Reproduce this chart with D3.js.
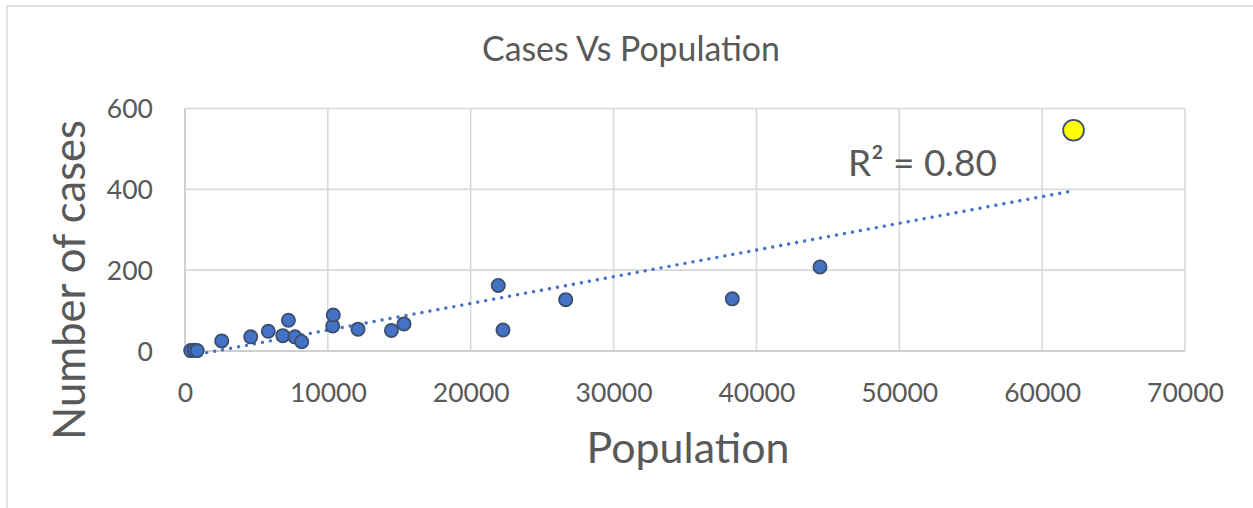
<!DOCTYPE html>
<html><head><meta charset="utf-8">
<script src="https://cdn.jsdelivr.net/npm/d3@7"></script>
<style>body{margin:0;background:#fff} svg{display:block}</style>
</head><body><svg id="c" width="1253" height="508"></svg>
<script>
// ---- data ----
const population = [400, 650, 850, 2570, 4600, 5830, 6850, 7240, 7700, 8170, 10340, 10380, 12110, 14450, 15330, 21930, 22260, 26650, 38310, 44450];
const cases      = [1,   2,   1,   25,   35,   49,   38,   76,   35,   23,   62,    89,    54,    51,    67,    162,   52,    127,   129,   208];
const highlightPopulation = [62200];
const highlightCases = [546];
const xTicks = [0, 10000, 20000, 30000, 40000, 50000, 60000, 70000];
const yTicks = [0, 200, 400, 600];
const chartTitle = "Cases Vs Population";
const xTitle = "Population";
const yTitle = "Number of cases";
const r2Label = "R² = 0.80";

// ---- layout ----
const svg = d3.select("#c");
const font = "Lato, 'Open Sans', sans-serif";
const textColor = "#595959";
const gridColor = "#d9d9d9";
const m = {left: 185, right: 1185, top: 108.5, bottom: 351};

svg.append("rect").attr("x", 7).attr("y", 6).attr("width", 1270).attr("height", 530)
  .attr("fill", "#fff").attr("stroke", gridColor).attr("stroke-width", 1.5);

const x = d3.scaleLinear().domain([0, 70000]).range([m.left, m.right]);
const y = d3.scaleLinear().domain([0, 600]).range([m.bottom, m.top]);

function fit(sel, target) {
  const n = sel.node();
  const fs = parseFloat(sel.attr("font-size"));
  const w = n.getComputedTextLength();
  sel.attr("font-size", fs * target / w);
  return fs * target / w;
}

// gridlines
svg.append("g").selectAll("line").data(yTicks).join("line")
  .attr("x1", m.left).attr("x2", m.right).attr("y1", d => y(d)).attr("y2", d => y(d))
  .attr("stroke", gridColor).attr("stroke-width", 1.6);
svg.append("g").selectAll("line").data(xTicks).join("line")
  .attr("x1", d => x(d)).attr("x2", d => x(d)).attr("y1", m.top).attr("y2", m.bottom)
  .attr("stroke", gridColor).attr("stroke-width", 1.6);
// axis lines
svg.append("line").attr("x1", m.left).attr("x2", m.right).attr("y1", m.bottom).attr("y2", m.bottom)
  .attr("stroke", "#cfcfcf").attr("stroke-width", 1.8);
svg.append("line").attr("x1", m.left).attr("x2", m.left).attr("y1", m.top).attr("y2", m.bottom)
  .attr("stroke", "#cfcfcf").attr("stroke-width", 1.8);

// tick font size: fit "70000" to ~77px
const probe = svg.append("text").attr("font-family", font).attr("font-size", 30).text("70000");
const tickFs = fit(probe, 77);
probe.remove();

const xAxis = svg.append("g").attr("transform", `translate(0,${m.bottom})`)
  .call(d3.axisBottom(x).tickValues(xTicks).tickFormat(d3.format("d")).tickSize(0));
xAxis.select(".domain").remove();
xAxis.selectAll("text").attr("y", 41.5).attr("dy", "0.35em")
  .attr("font-family", font).attr("font-size", tickFs).attr("fill", textColor);

const yAxis = svg.append("g").attr("transform", `translate(${m.left},0)`)
  .call(d3.axisLeft(y).tickValues(yTicks).tickFormat(d3.format("d")).tickSize(0));
yAxis.select(".domain").remove();
yAxis.selectAll("text").attr("x", -32).attr("dy", "0.35em")
  .attr("font-family", font).attr("font-size", tickFs).attr("fill", textColor);

// trendline (least squares over all points)
const allX = population.concat(highlightPopulation);
const allY = cases.concat(highlightCases);
const mx = d3.mean(allX), my = d3.mean(allY);
let sxy = 0, sxx = 0;
allX.forEach((v, i) => { sxy += (v - mx) * (allY[i] - my); sxx += (v - mx) * (v - mx); });
const slope = sxy / sxx, intercept = my - slope * mx;
const [x0, x1] = d3.extent(allX);

svg.append("clipPath").attr("id", "clip").append("rect")
  .attr("x", m.left).attr("y", m.top).attr("width", m.right - m.left).attr("height", m.bottom - m.top + 3);
svg.append("line").attr("clip-path", "url(#clip)")
  .attr("x1", x(x0)).attr("y1", y(slope * x0 + intercept))
  .attr("x2", x(x1)).attr("y2", y(slope * x1 + intercept))
  .attr("stroke", "#4472C4").attr("stroke-width", 3.4)
  .attr("stroke-linecap", "round").attr("stroke-dasharray", "0.01 8.1");

// points
svg.append("g").selectAll("circle").data(population.map((p, i) => [p, cases[i]])).join("circle")
  .attr("cx", d => x(d[0])).attr("cy", d => y(d[1])).attr("r", 6.6)
  .attr("fill", "#4472C4").attr("stroke", "#3b4e6e").attr("stroke-width", 1.8);
svg.append("g").selectAll("circle").data(highlightPopulation.map((p, i) => [p, highlightCases[i]])).join("circle")
  .attr("cx", d => x(d[0])).attr("cy", d => y(d[1])).attr("r", 10.4)
  .attr("fill", "#FFFF00").attr("stroke", "#3b4e6e").attr("stroke-width", 1.8);

// texts
const t = svg.append("text").attr("x", 631).attr("y", 61).attr("text-anchor", "middle")
  .attr("font-family", font).attr("font-size", 32).attr("fill", textColor).text(chartTitle);
fit(t, 298);
const xt = svg.append("text").attr("x", 688).attr("y", 463).attr("text-anchor", "middle")
  .attr("font-family", font).attr("font-size", 40).attr("fill", textColor).text(xTitle);
fit(xt, 203);
const yt = svg.append("text").attr("transform", "translate(85,280) rotate(-90)").attr("text-anchor", "middle")
  .attr("font-family", font).attr("font-size", 40).attr("fill", textColor).text(yTitle);
fit(yt, 320);
const rt = svg.append("text").attr("x", 848).attr("y", 176).attr("text-anchor", "start")
  .attr("font-family", font).attr("font-size", 36).attr("fill", textColor).text(r2Label);
fit(rt, 149);
</script>
</body></html>
